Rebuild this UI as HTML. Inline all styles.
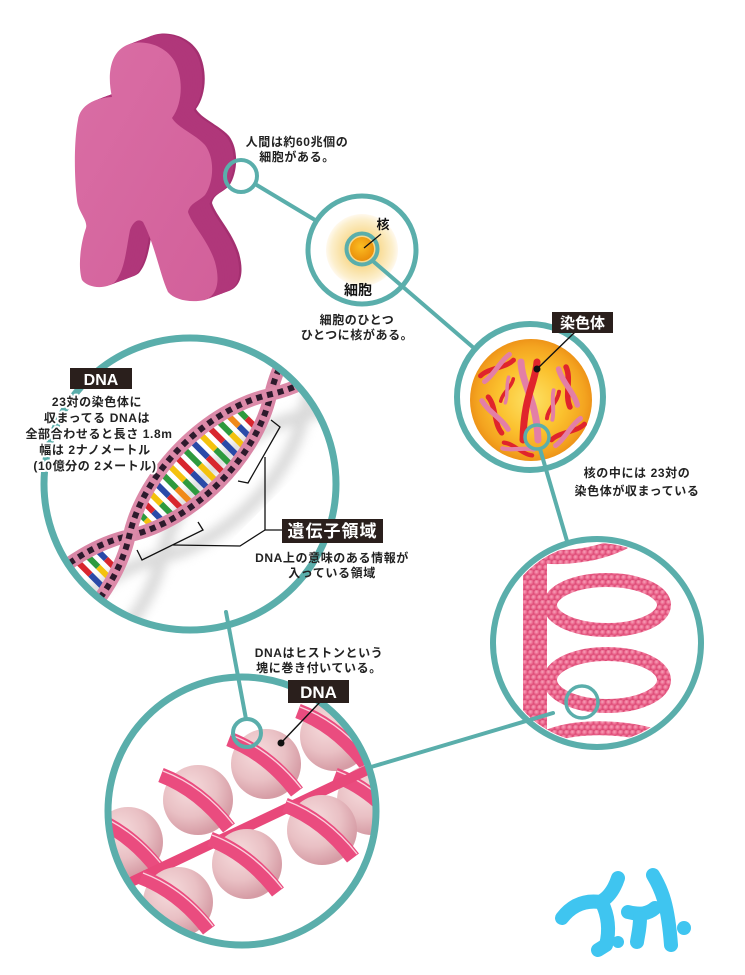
<!DOCTYPE html>
<html><head><meta charset="utf-8">
<style>
html,body{margin:0;padding:0;background:#fff;}
svg{display:block;}
text{font-family:"Liberation Sans","Noto Sans CJK JP",sans-serif;}
</style></head><body>
<svg width="745" height="975" viewBox="0 0 745 975" xmlns="http://www.w3.org/2000/svg">
<defs>
  <path id="fig" d="M 112 97 C 108 80, 108 55, 125 46 C 140 38, 165 44, 175 62 C 184 80, 182 105, 172 118 C 178 128, 195 134, 205 145 C 215 158, 214 182, 205 195 C 198 202, 190 203, 188 212 C 192 225, 208 240, 215 262 C 220 280, 218 295, 205 300 C 190 303, 175 300, 168 292 C 160 275, 155 245, 143 222 C 138 218, 133 222, 130 230 C 126 250, 125 270, 115 282 C 105 290, 88 288, 82 280 C 78 268, 80 245, 86 228 C 88 220, 78 212, 77 200 C 74 175, 74 140, 78 120 C 80 105, 95 98, 112 97 Z"/>
  <radialGradient id="glow" cx="50%" cy="50%" r="50%">
    <stop offset="0" stop-color="#f7cf70"/>
    <stop offset="0.5" stop-color="#f9dd99"/>
    <stop offset="0.85" stop-color="#fcefcc"/>
    <stop offset="1" stop-color="#fff9ee"/>
  </radialGradient>
  <radialGradient id="nuc" cx="45%" cy="40%" r="60%">
    <stop offset="0" stop-color="#fbbd22"/>
    <stop offset="1" stop-color="#ea8e0a"/>
  </radialGradient>
  <radialGradient id="sph" cx="50%" cy="50%" r="50%">
    <stop offset="0" stop-color="#fde266"/>
    <stop offset="0.55" stop-color="#fbc12e"/>
    <stop offset="0.88" stop-color="#f4a420"/>
    <stop offset="1" stop-color="#ee9418"/>
  </radialGradient>
  <radialGradient id="ball" cx="38%" cy="35%" r="65%">
    <stop offset="0" stop-color="#f6dcdd"/>
    <stop offset="0.6" stop-color="#e9c0c4"/>
    <stop offset="1" stop-color="#d69ca5"/>
  </radialGradient>
  <radialGradient id="bead" cx="40%" cy="40%" r="60%">
    <stop offset="0" stop-color="#f7a3ba"/>
    <stop offset="0.6" stop-color="#ec6b91"/>
    <stop offset="1" stop-color="#de4c77"/>
  </radialGradient>
  <pattern id="beads" patternUnits="userSpaceOnUse" width="12" height="10">
    <rect width="12" height="10" fill="#d94a74"/>
    <circle cx="3" cy="2.5" r="3" fill="url(#bead)"/>
    <circle cx="9" cy="2.5" r="3" fill="url(#bead)"/>
    <circle cx="0" cy="7.5" r="3" fill="url(#bead)"/>
    <circle cx="6" cy="7.5" r="3" fill="url(#bead)"/>
    <circle cx="12" cy="7.5" r="3" fill="url(#bead)"/>
  </pattern>
  <linearGradient id="front" x1="0" y1="0" x2="1" y2="1">
    <stop offset="0" stop-color="#da6ea5"/>
    <stop offset="1" stop-color="#d2609a"/>
  </linearGradient>
  <clipPath id="cDNA"><circle cx="190" cy="484" r="143"/></clipPath>
  <clipPath id="cCoil"><circle cx="597" cy="643" r="100"/></clipPath>
  <clipPath id="cHis"><circle cx="242" cy="811" r="131"/></clipPath>
  <filter id="blur" x="-20%" y="-20%" width="140%" height="140%"><feGaussianBlur stdDeviation="5"/></filter>
  <g id="chr">
    <path d="M -18 -3 C -6 -5, 6 5, 18 3" fill="none" stroke="#e0242c" stroke-width="5" stroke-linecap="round"/>
    <path d="M -18 4 C -6 4, 6 -4, 18 -4" fill="none" stroke="#e37fa6" stroke-width="5" stroke-linecap="round"/>
  </g>
  <g id="hb">
    <circle r="35" fill="url(#ball)"/>
    <path d="M -37 -25 Q 2 -10 31 28" fill="none" stroke="#ea4c7f" stroke-width="15"/>
    <path d="M -35 -29 Q 5 -14 35 24" fill="none" stroke="#fbd0dc" stroke-width="1.4"/>
  </g>
</defs>
<rect width="745" height="975" fill="#fff"/>

<!-- Figure -->
<g fill="#b0377a">
  <use href="#fig" transform="translate(24,-9)" fill="#a42f70"/>
  <use href="#fig" transform="translate(21.6,-8.1)"/>
  <use href="#fig" transform="translate(19.2,-7.2)"/>
  <use href="#fig" transform="translate(16.8,-6.3)"/>
  <use href="#fig" transform="translate(14.4,-5.4)"/>
  <use href="#fig" transform="translate(12,-4.5)"/>
  <use href="#fig" transform="translate(9.6,-3.6)"/>
  <use href="#fig" transform="translate(7.2,-2.7)"/>
  <use href="#fig" transform="translate(4.8,-1.8)"/>
  <use href="#fig" transform="translate(2.4,-0.9)"/>
</g>
<use href="#fig" fill="url(#front)"/>

<!-- Cell -->
<circle cx="362" cy="250" r="36" fill="url(#glow)"/>
<circle cx="362" cy="249" r="12" fill="url(#nuc)"/>
<circle cx="362" cy="249" r="15.5" fill="none" stroke="#5aaeab" stroke-width="4"/>
<circle cx="362" cy="250" r="54" fill="none" stroke="#5aaeab" stroke-width="5"/>
<line x1="381" y1="234" x2="364" y2="248" stroke="#111" stroke-width="1.3"/>
<text x="383" y="229" font-size="13" font-weight="bold" text-anchor="middle" fill="#111">核</text>
<text x="358" y="295" font-size="14" font-weight="bold" text-anchor="middle" fill="#111">細胞</text>

<!-- Chromosome circle -->
<circle cx="531" cy="400" r="61" fill="url(#sph)"/>
<use href="#chr" transform="translate(497,368) rotate(-35)"/>
<use href="#chr" transform="translate(507,390) rotate(-70) scale(0.7)"/>
<use href="#chr" transform="translate(495,415) rotate(60) scale(1.05)"/>
<use href="#chr" transform="translate(568,387) rotate(75) scale(1.1)"/>
<use href="#chr" transform="translate(553,405) rotate(-75) scale(0.8)"/>
<use href="#chr" transform="translate(568,432) rotate(-35)"/>
<use href="#chr" transform="translate(518,449) rotate(15) scale(0.85)"/>
<path d="M 521 362 C 522 385, 537 400, 538 440" fill="none" stroke="#e37fa6" stroke-width="7" stroke-linecap="round"/>
<path d="M 537 362 C 535 385, 524 395, 523 440" fill="none" stroke="#e0242c" stroke-width="7" stroke-linecap="round"/>
<circle cx="530" cy="397" r="73" fill="none" stroke="#5aaeab" stroke-width="6"/>
<circle cx="537" cy="437" r="12" fill="none" stroke="#5aaeab" stroke-width="3.5"/>
<line x1="537" y1="369" x2="575" y2="332" stroke="#111" stroke-width="1.4"/>
<circle cx="537" cy="369" r="3.5" fill="#111"/>
<rect x="552" y="312" width="61" height="21" fill="#2a1f1c"/>
<text x="582.5" y="328" font-size="15" font-weight="bold" text-anchor="middle" fill="#fff">染色体</text>

<!-- DNA circle -->
<g clip-path="url(#cDNA)">
  <g transform="translate(200,465) rotate(-45)">
    <g filter="url(#blur)" opacity="0.55">
      <path transform="translate(8,38)" d="M -300 0 C -245 35 -155 35 -100 0 C -45 -35 45 -35 100 0 C 155 35 245 35 300 0" fill="none" stroke="#bdbdbd" stroke-width="13"/>
      <path transform="translate(8,38)" d="M -300 0 C -245 -35 -155 -35 -100 0 C -45 35 45 35 100 0 C 155 -35 245 -35 300 0" fill="none" stroke="#bdbdbd" stroke-width="13"/>
    </g>
    <g>
      <rect x="-80" y="-9.2" width="6" height="9.2" fill="#2e9a3e"/><rect x="-80" y="0" width="6" height="9.2" fill="#f4c20d"/>
      <rect x="-69" y="-13.2" width="6" height="13.2" fill="#d8262e"/><rect x="-69" y="0" width="6" height="13.2" fill="#2a4aa8"/>
      <rect x="-58" y="-16.8" width="6" height="16.8" fill="#f4c20d"/><rect x="-58" y="0" width="6" height="16.8" fill="#2e9a3e"/>
      <rect x="-47" y="-20.1" width="6" height="20.1" fill="#2a4aa8"/><rect x="-47" y="0" width="6" height="20.1" fill="#d8262e"/>
      <rect x="-36" y="-22.5" width="6" height="22.5" fill="#2e9a3e"/><rect x="-36" y="0" width="6" height="22.5" fill="#f08a1a"/>
      <rect x="-25" y="-24.5" width="6" height="24.5" fill="#f4c20d"/><rect x="-25" y="0" width="6" height="24.5" fill="#2e9a3e"/>
      <rect x="-14" y="-25.6" width="6" height="25.6" fill="#d8262e"/><rect x="-14" y="0" width="6" height="25.6" fill="#2a4aa8"/>
      <rect x="-3" y="-26" width="6" height="26" fill="#2e9a3e"/><rect x="-3" y="0" width="6" height="26" fill="#f4c20d"/>
      <rect x="8" y="-25.6" width="6" height="25.6" fill="#2a4aa8"/><rect x="8" y="0" width="6" height="25.6" fill="#d8262e"/>
      <rect x="19" y="-24.5" width="6" height="24.5" fill="#f4c20d"/><rect x="19" y="0" width="6" height="24.5" fill="#2e9a3e"/>
      <rect x="30" y="-22.5" width="6" height="22.5" fill="#d8262e"/><rect x="30" y="0" width="6" height="22.5" fill="#2a4aa8"/>
      <rect x="41" y="-20.1" width="6" height="20.1" fill="#2e9a3e"/><rect x="41" y="0" width="6" height="20.1" fill="#f4c20d"/>
      <rect x="52" y="-16.8" width="6" height="16.8" fill="#f08a1a"/><rect x="52" y="0" width="6" height="16.8" fill="#2a4aa8"/>
      <rect x="63" y="-13.2" width="6" height="13.2" fill="#2e9a3e"/><rect x="63" y="0" width="6" height="13.2" fill="#d8262e"/>
      <rect x="-136" y="-12.9" width="6" height="12.9" fill="#2a4aa8"/><rect x="-136" y="0" width="6" height="12.9" fill="#d8262e"/>
      <rect x="-147" y="-16.6" width="6" height="16.6" fill="#2e9a3e"/><rect x="-147" y="0" width="6" height="16.6" fill="#f4c20d"/>
      <rect x="-158" y="-19.8" width="6" height="19.8" fill="#d8262e"/><rect x="-158" y="0" width="6" height="19.8" fill="#2a4aa8"/>
      <rect x="-169" y="-22.4" width="6" height="22.4" fill="#f4c20d"/><rect x="-169" y="0" width="6" height="22.4" fill="#2e9a3e"/>
      <rect x="-180" y="-24.4" width="6" height="24.4" fill="#2a4aa8"/><rect x="-180" y="0" width="6" height="24.4" fill="#d8262e"/>
      <rect x="-191" y="-25.7" width="6" height="25.7" fill="#2e9a3e"/><rect x="-191" y="0" width="6" height="25.7" fill="#f4c20d"/>
      <rect x="130" y="-12.9" width="6" height="12.9" fill="#2a4aa8"/><rect x="130" y="0" width="6" height="12.9" fill="#d8262e"/>
      <rect x="141" y="-16.6" width="6" height="16.6" fill="#2e9a3e"/><rect x="141" y="0" width="6" height="16.6" fill="#f4c20d"/>
      <rect x="152" y="-19.8" width="6" height="19.8" fill="#d8262e"/><rect x="152" y="0" width="6" height="19.8" fill="#2a4aa8"/>
    </g>
    <path d="M -300 0 C -245 -35 -155 -35 -100 0 C -45 35 45 35 100 0 C 155 -35 245 -35 300 0" fill="none" stroke="#d986a6" stroke-width="13"/>
    <path d="M -300 0 C -245 -35 -155 -35 -100 0 C -45 35 45 35 100 0 C 155 -35 245 -35 300 0" fill="none" stroke="#2d1a2c" stroke-width="6" stroke-dasharray="6 5"/>
    <path d="M -300 0 C -245 35 -155 35 -100 0 C -45 -35 45 -35 100 0 C 155 35 245 35 300 0" fill="none" stroke="#dc8aa9" stroke-width="13"/>
    <path d="M -300 0 C -245 35 -155 35 -100 0 C -45 -35 45 -35 100 0 C 155 35 245 35 300 0" fill="none" stroke="#2d1a2c" stroke-width="6" stroke-dasharray="6 5" stroke-dashoffset="3"/>
  </g>
</g>
<circle cx="190" cy="484" r="146" fill="none" stroke="#5aaeab" stroke-width="7"/>
<g fill="none" stroke="#111" stroke-width="1.3">
  <path d="M 271 420 L 280 427 L 248 483 L 238 481"/>
  <path d="M 198 522 L 203 530 L 142 560 L 137 550"/>
  <path d="M 265 457 L 265 530 L 282 530"/>
  <path d="M 173 545 L 240 546 L 265 530"/>
</g>
<rect x="70" y="368" width="62" height="21" fill="#2a1f1c"/>
<text x="101" y="385" font-size="16" font-weight="bold" text-anchor="middle" fill="#fff">DNA</text>
<g font-size="12" font-weight="bold" text-anchor="middle" fill="#222" stroke="#fff" stroke-width="4" paint-order="stroke" stroke-linejoin="round" letter-spacing="0.6">
  <text x="97" y="406">23対の染色体に</text>
  <text x="97" y="422">収まってる DNAは</text>
  <text x="99" y="438">全部合わせると長さ 1.8m</text>
  <text x="95" y="454">幅は 2ナノメートル</text>
  <text x="95" y="470">(10億分の 2メートル)</text>
</g>
<rect x="282" y="519" width="101" height="24" fill="#2a1f1c"/>
<text x="332.5" y="537" font-size="17" font-weight="bold" text-anchor="middle" fill="#fff" letter-spacing="1">遺伝子領域</text>

<!-- Coil circle -->
<g clip-path="url(#cCoil)" fill="none" stroke-linecap="round" stroke="url(#beads)" stroke-width="14">
  <path d="M 530 535 L 530 755"/>
  <path d="M 540 535 L 540 755"/>
  <path d="M 534 555 C 560 560, 600 556, 628 540"/>
  <ellipse cx="607" cy="605" rx="57" ry="25"/>
  <ellipse cx="607" cy="680" rx="57" ry="26"/>
  <path d="M 545 738 C 570 726, 620 724, 662 738"/>
</g>
<circle cx="597" cy="643" r="104" fill="none" stroke="#5aaeab" stroke-width="6"/>
<circle cx="582" cy="702" r="16" fill="none" stroke="#5aaeab" stroke-width="3.5"/>

<!-- Histone circle -->
<g clip-path="url(#cHis)">
  <use href="#hb" transform="translate(335,736)"/>
  <use href="#hb" transform="translate(372,800)"/>
  <use href="#hb" transform="translate(266,764)"/>
  <use href="#hb" transform="translate(198,800)"/>
  <use href="#hb" transform="translate(128,842)"/>
  <line x1="110" y1="892" x2="380" y2="764" stroke="#e8487a" stroke-width="10"/>
  <use href="#hb" transform="translate(322,830)"/>
  <use href="#hb" transform="translate(247,864)"/>
  <use href="#hb" transform="translate(178,902)"/>
</g>
<circle cx="242" cy="811" r="134" fill="none" stroke="#5aaeab" stroke-width="7"/>
<circle cx="247" cy="733" r="14" fill="none" stroke="#5aaeab" stroke-width="4"/>
<line x1="281" y1="743" x2="320" y2="702" stroke="#111" stroke-width="1.4"/>
<circle cx="281" cy="743" r="3.5" fill="#111"/>
<rect x="288" y="680" width="61" height="23" fill="#2a1f1c"/>
<text x="318.5" y="698" font-size="17" font-weight="bold" text-anchor="middle" fill="#fff">DNA</text>

<!-- connectors -->
<g stroke="#5aaeab" stroke-width="4" stroke-linecap="round">
  <line x1="255" y1="184" x2="315" y2="220"/>
  <line x1="374" y1="262" x2="475" y2="349"/>
  <line x1="540" y1="449" x2="567" y2="541"/>
  <line x1="553" y1="713" x2="371" y2="767"/>
  <line x1="226" y1="612" x2="246" y2="719"/>
</g>
<circle cx="241" cy="176" r="16" fill="none" stroke="#5aaeab" stroke-width="4"/>

<!-- texts -->
<g font-size="12" font-weight="bold" text-anchor="middle" fill="#222" letter-spacing="0.6">
  <text x="297" y="146">人間は約60兆個の</text>
  <text x="297" y="161">細胞がある。</text>
  <text x="357" y="324">細胞のひとつ</text>
  <text x="357" y="339">ひとつに核がある。</text>
  <text x="637" y="477">核の中には 23対の</text>
  <text x="637" y="495">染色体が収まっている</text>
  <text x="332" y="562">DNA上の意味のある情報が</text>
  <text x="332" y="577">入っている領域</text>
  <text x="319" y="657">DNAはヒストンという</text>
  <text x="319" y="672">塊に巻き付いている。</text>
</g>

<!-- blue marks -->
<g fill="none" stroke="#3fc5f0" stroke-width="14" stroke-linecap="round" stroke-linejoin="round">
  <path d="M 562 918 C 572 905, 585 900, 600 902 C 608 898, 614 890, 618 878"/>
  <path d="M 602 903 C 608 915, 610 930, 606 945 L 598 950"/>
  <path d="M 628 912 C 640 915, 648 914, 655 908"/>
  <path d="M 640 918 C 640 928, 638 935, 637 942"/>
  <path d="M 653 875 C 662 890, 668 905, 671 945"/>
</g>
<circle cx="618" cy="942" r="6" fill="#3fc5f0"/>
<circle cx="684" cy="928" r="7" fill="#3fc5f0"/>
</svg>
</body></html>
